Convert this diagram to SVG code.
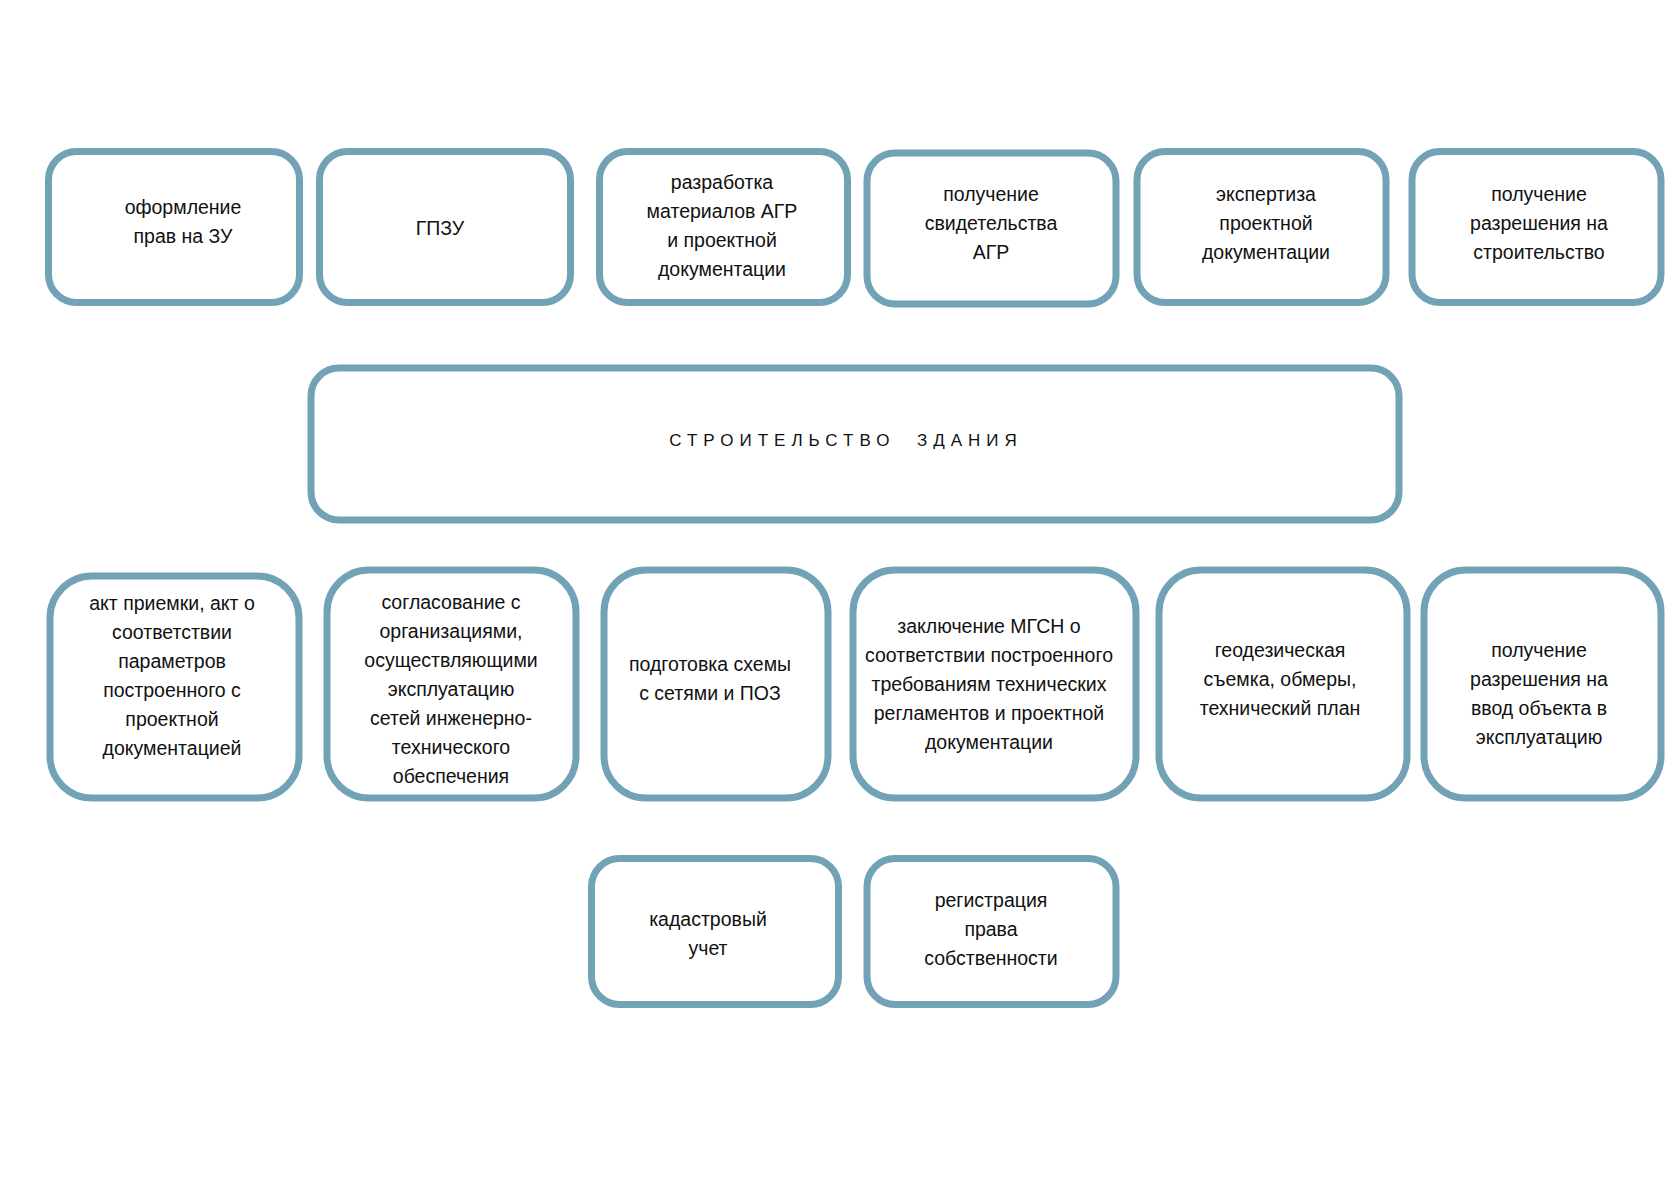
<svg xmlns="http://www.w3.org/2000/svg" width="1680" height="1187" viewBox="0 0 1680 1187">
<style>
.b{fill:#fff;stroke:#72a2b6;stroke-width:7}
.t{font-family:"Liberation Sans",Arial,sans-serif;font-size:19.5px;fill:#111;text-anchor:middle}
.c{font-family:"Liberation Sans",Arial,sans-serif;font-size:17px;fill:#111;text-anchor:middle;letter-spacing:6px}
</style>
<rect width="1680" height="1187" fill="#fff"/>
<g id="connectors"></g>
<g id="n1"><rect class="b" x="48.5" y="151.5" width="251" height="151" rx="28"/>
<text class="t" x="183" y="214">оформление</text><text class="t" x="183" y="243">прав на ЗУ</text></g>
<g id="n2"><rect class="b" x="319.5" y="151.5" width="251" height="151" rx="28"/>
<text class="t" x="440" y="235">ГПЗУ</text></g>
<g id="n3"><rect class="b" x="599.5" y="151.5" width="248" height="151" rx="28"/>
<text class="t" x="722" y="189">разработка</text><text class="t" x="722" y="218">материалов АГР</text><text class="t" x="722" y="247">и проектной</text><text class="t" x="722" y="276">документации</text></g>
<g id="n4"><rect class="b" x="867" y="153" width="249" height="151" rx="28"/>
<text class="t" x="991" y="201">получение</text><text class="t" x="991" y="230">свидетельства</text><text class="t" x="991" y="259">АГР</text></g>
<g id="n5"><rect class="b" x="1137" y="151.5" width="249" height="151" rx="28"/>
<text class="t" x="1266" y="201">экспертиза</text><text class="t" x="1266" y="230">проектной</text><text class="t" x="1266" y="259">документации</text></g>
<g id="n6"><rect class="b" x="1412" y="151.5" width="249" height="151" rx="28"/>
<text class="t" x="1539" y="201">получение</text><text class="t" x="1539" y="230">разрешения на</text><text class="t" x="1539" y="259">строительство</text></g>
<g id="center"><rect class="b" x="311" y="368" width="1088" height="152" rx="28"/>
<text class="c" x="846" y="446" xml:space="preserve">СТРОИТЕЛЬСТВО  ЗДАНИЯ</text></g>
<g id="m1"><rect class="b" x="50" y="576" width="249" height="222" rx="42"/>
<text class="t" x="172" y="610">акт приемки, акт о</text><text class="t" x="172" y="639">соответствии</text><text class="t" x="172" y="668">параметров</text><text class="t" x="172" y="697">построенного с</text><text class="t" x="172" y="726">проектной</text><text class="t" x="172" y="755">документацией</text></g>
<g id="m2"><rect class="b" x="327" y="570" width="249" height="228" rx="42"/>
<text class="t" x="451" y="609">согласование с</text><text class="t" x="451" y="638">организациями,</text><text class="t" x="451" y="667">осуществляющими</text><text class="t" x="451" y="696">эксплуатацию</text><text class="t" x="451" y="725">сетей инженерно-</text><text class="t" x="451" y="754">технического</text><text class="t" x="451" y="783">обеспечения</text></g>
<g id="m3"><rect class="b" x="604" y="570" width="224" height="228" rx="42"/>
<text class="t" x="710" y="671">подготовка схемы</text><text class="t" x="710" y="700">с сетями и ПОЗ</text></g>
<g id="m4"><rect class="b" x="853" y="570" width="283" height="228" rx="42"/>
<text class="t" x="989" y="633">заключение МГСН о</text><text class="t" x="989" y="662">соответствии построенного</text><text class="t" x="989" y="691">требованиям технических</text><text class="t" x="989" y="720">регламентов и проектной</text><text class="t" x="989" y="749">документации</text></g>
<g id="m5"><rect class="b" x="1159" y="570" width="248" height="228" rx="42"/>
<text class="t" x="1280" y="657">геодезическая</text><text class="t" x="1280" y="686">съемка, обмеры,</text><text class="t" x="1280" y="715">технический план</text></g>
<g id="m6"><rect class="b" x="1424" y="570" width="237" height="228" rx="42"/>
<text class="t" x="1539" y="657">получение</text><text class="t" x="1539" y="686">разрешения на</text><text class="t" x="1539" y="715">ввод объекта в</text><text class="t" x="1539" y="744">эксплуатацию</text></g>
<g id="k1"><rect class="b" x="591.5" y="858.5" width="247" height="146" rx="28"/>
<text class="t" x="708" y="926">кадастровый</text><text class="t" x="708" y="955">учет</text></g>
<g id="k2"><rect class="b" x="867" y="858.5" width="249" height="146" rx="28"/>
<text class="t" x="991" y="907">регистрация</text><text class="t" x="991" y="936">права</text><text class="t" x="991" y="965">собственности</text></g>
</svg>
